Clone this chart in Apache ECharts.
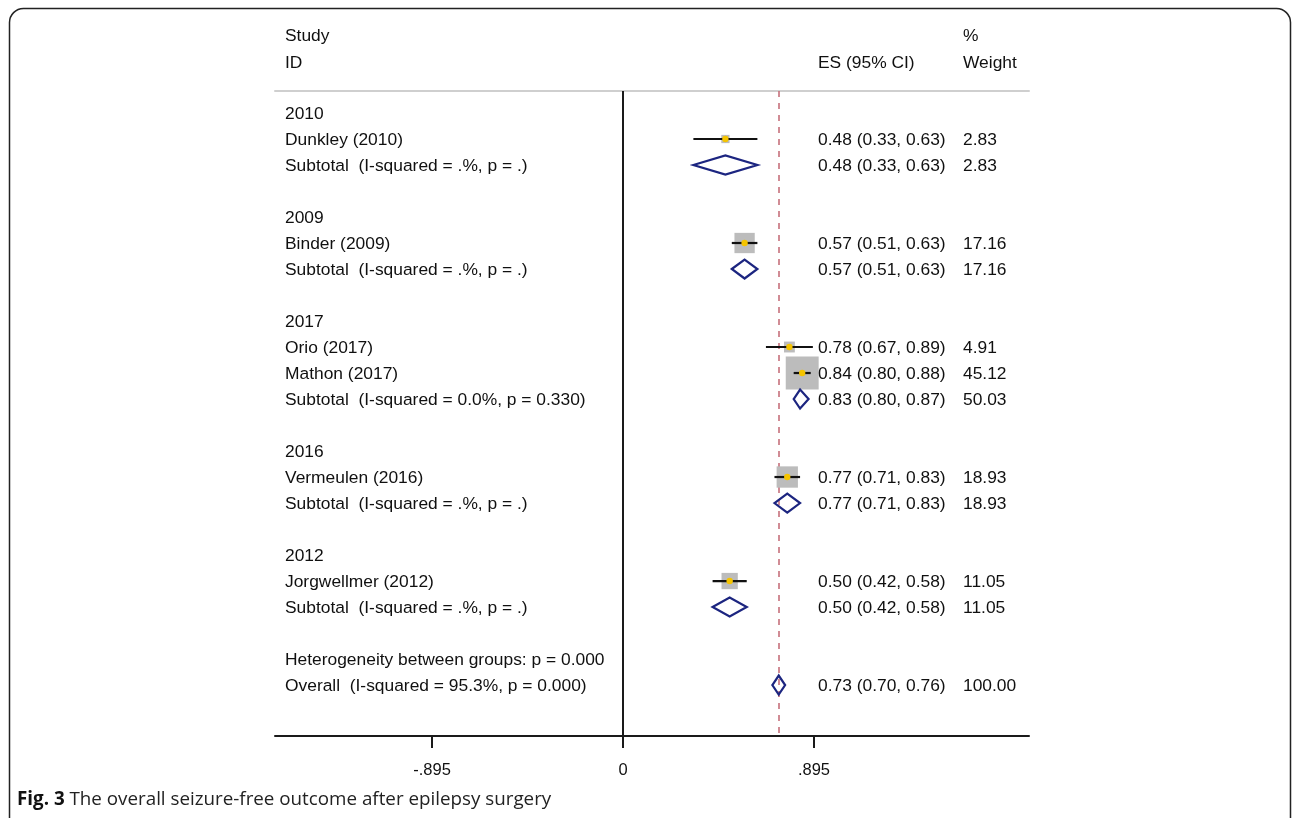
<!DOCTYPE html>
<html>
<head>
<meta charset="utf-8">
<title>Seizure-free outcome forest plot</title>
<script src="https://cdn.jsdelivr.net/npm/echarts@6/dist/echarts.min.js"></script>
<style>
  html, body { margin: 0; padding: 0; background: #fff; }
  #chart { width: 1292px; height: 818px; }
</style>
</head>
<body>
<div id="chart"></div>
<script>
// Row contents, top to bottom (one entry per plotted row)
const rowLabels = [
  '2010', 'Dunkley (2010)', 'Subtotal  (I-squared = .%, p = .)', '',
  '2009', 'Binder (2009)', 'Subtotal  (I-squared = .%, p = .)', '',
  '2017', 'Orio (2017)', 'Mathon (2017)', 'Subtotal  (I-squared = 0.0%, p = 0.330)', '',
  '2016', 'Vermeulen (2016)', 'Subtotal  (I-squared = .%, p = .)', '',
  '2012', 'Jorgwellmer (2012)', 'Subtotal  (I-squared = .%, p = .)', '',
  'Heterogeneity between groups: p = 0.000', 'Overall  (I-squared = 95.3%, p = 0.000)'
];
// 'g' group heading, 's' single study, 'p' pooled estimate, '' text only
const rowKind = [
  'g', 's', 'p', '',
  'g', 's', 'p', '',
  'g', 's', 's', 'p', '',
  'g', 's', 'p', '',
  'g', 's', 'p', '',
  '', 'p'
];
const effect = [
  null, 0.48, 0.48, null,
  null, 0.57, 0.57, null,
  null, 0.78, 0.84, 0.83, null,
  null, 0.77, 0.77, null,
  null, 0.50, 0.50, null,
  null, 0.73
];
const ciLow = [
  null, 0.33, 0.33, null,
  null, 0.51, 0.51, null,
  null, 0.67, 0.80, 0.80, null,
  null, 0.71, 0.71, null,
  null, 0.42, 0.42, null,
  null, 0.70
];
const ciHigh = [
  null, 0.63, 0.63, null,
  null, 0.63, 0.63, null,
  null, 0.89, 0.88, 0.87, null,
  null, 0.83, 0.83, null,
  null, 0.58, 0.58, null,
  null, 0.76
];
const weight = [
  null, 2.83, 2.83, null,
  null, 17.16, 17.16, null,
  null, 4.91, 45.12, 50.03, null,
  null, 18.93, 18.93, null,
  null, 11.05, 11.05, null,
  null, 100.00
];
const tickValues = [-0.895, 0, 0.895];
const tickLabels = ['-.895', '0', '.895'];
const overallEffect = effect[effect.length - 1];

const FONT = '"Liberation Sans", Arial, Helvetica, sans-serif';
const FONT_SIZE = 17.4;
const TEXT_COLOR = '#101010';
const LABEL_X = 285;     // left edge of study labels
const ES_X = 818;        // left edge of "ES (95% CI)" column
const WT_X = 963;        // left edge of "% Weight" column

const rows = rowLabels.map((name, i) => ({
  value: [effect[i], i, ciLow[i], ciHigh[i], weight[i]],
  name: name,
  kind: rowKind[i]
}));

function fmt(v) { return v.toFixed(2); }

function textEl(x, y, text) {
  return {
    type: 'text',
    style: {
      x: x, y: y, text: text,
      font: FONT_SIZE + 'px ' + FONT, fill: TEXT_COLOR,
      textAlign: 'left', textVerticalAlign: 'middle'
    }
  };
}

function renderRow(params, api) {
  const i = params.dataIndex;
  const row = rows[i];
  const y = api.coord([0, i])[1] + 1;
  const children = [];

  if (row.name) children.push(textEl(LABEL_X, y, row.name));

  const es = effect[i];
  if (es != null) {
    const c = api.coord([es, i]);
    const lo = api.coord([ciLow[i], i]);
    const hi = api.coord([ciHigh[i], i]);
    if (row.kind === 's') {
      // box area proportional to study weight
      const side = 4.9 * Math.sqrt(weight[i]);
      children.push({
        type: 'rect',
        shape: { x: c[0] - side / 2, y: c[1] - side / 2, width: side, height: side },
        style: { fill: '#bcbcbc' }
      });
      children.push({
        type: 'line',
        shape: { x1: lo[0], y1: c[1], x2: hi[0], y2: c[1] },
        style: { stroke: '#111', lineWidth: 2.2 }
      });
      children.push({
        type: 'circle',
        shape: { cx: c[0], cy: c[1], r: 3.2 },
        style: { fill: '#f5c400' }
      });
    } else if (row.kind === 'p') {
      const h = 9.5;
      children.push({
        type: 'polygon',
        shape: { points: [[lo[0], c[1]], [c[0], c[1] - h], [hi[0], c[1]], [c[0], c[1] + h]] },
        style: { fill: 'none', stroke: '#1c2580', lineWidth: 2.2 }
      });
    }
    children.push(textEl(ES_X, y, fmt(es) + ' (' + fmt(ciLow[i]) + ', ' + fmt(ciHigh[i]) + ')'));
    children.push(textEl(WT_X, y, fmt(weight[i])));
  }
  return { type: 'group', children: children };
}

const chart = echarts.init(document.getElementById('chart'), null, { renderer: 'canvas' });

const headerText = (x, y, text) => ({
  type: 'text', left: x, top: y,
  style: { text: text, font: FONT_SIZE + 'px ' + FONT, fill: TEXT_COLOR }
});

chart.setOption({
  animation: false,
  backgroundColor: '#fff',
  grid: { left: 275, right: 263, top: 91, bottom: 82 },
  xAxis: [
    {
      type: 'value', min: -1.631, max: 1.903,
      position: 'bottom',
      axisLine: { show: true, onZero: false, lineStyle: { color: '#1a1a1a', width: 2 } },
      axisTick: { show: true, length: 12, customValues: tickValues, lineStyle: { color: '#1a1a1a', width: 2 } },
      axisLabel: {
        show: true, customValues: tickValues, margin: 26,
        fontFamily: 'Liberation Sans', fontSize: 16.5, color: '#111',
        formatter: v => tickLabels[tickValues.indexOf(v)] ?? ''
      },
      splitLine: { show: false }
    },
    {
      type: 'value', min: -1.631, max: 1.903,
      position: 'top',
      axisLine: { show: true, onZero: false, lineStyle: { color: '#cfcfcf', width: 2 } },
      axisTick: { show: false },
      axisLabel: { show: false },
      splitLine: { show: false }
    }
  ],
  yAxis: {
    type: 'value', inverse: true, min: -0.846, max: 23.96, show: false
  },
  series: [
    {
      type: 'custom',
      renderItem: renderRow,
      data: rows.map(r => r.value),
      clip: false,
      z: 5,
      markLine: {
        silent: true, symbol: 'none', label: { show: false },
        data: [
          { xAxis: 0, lineStyle: { color: '#1a1a1a', width: 2, type: 'solid' } },
          { xAxis: overallEffect, lineStyle: { color: '#c6707c', width: 1.6, type: [6, 6] } }
        ]
      }
    }
  ],
  graphic: [
    {
      type: 'rect', z: -1,
      shape: { x: 9.5, y: 8.5, width: 1281, height: 840, r: 14 },
      style: { fill: 'none', stroke: '#222', lineWidth: 1.5 }
    },
    headerText(285, 28, 'Study'),
    headerText(285, 55, 'ID'),
    headerText(ES_X, 55, 'ES (95% CI)'),
    headerText(WT_X, 28, '%'),
    headerText(WT_X, 55, 'Weight'),
    {
      type: 'text', left: 17, top: 790,
      style: {
        text: '{b|Fig. 3} The overall seizure-free outcome after epilepsy surgery',
        font: '18.8px "Open Sans", sans-serif', fill: '#222',
        rich: {
          b: { fontFamily: 'Open Sans', fontWeight: 'bold', fontSize: 18.8, fill: '#111' }
        }
      }
    }
  ]
});
</script>
</body>
</html>
